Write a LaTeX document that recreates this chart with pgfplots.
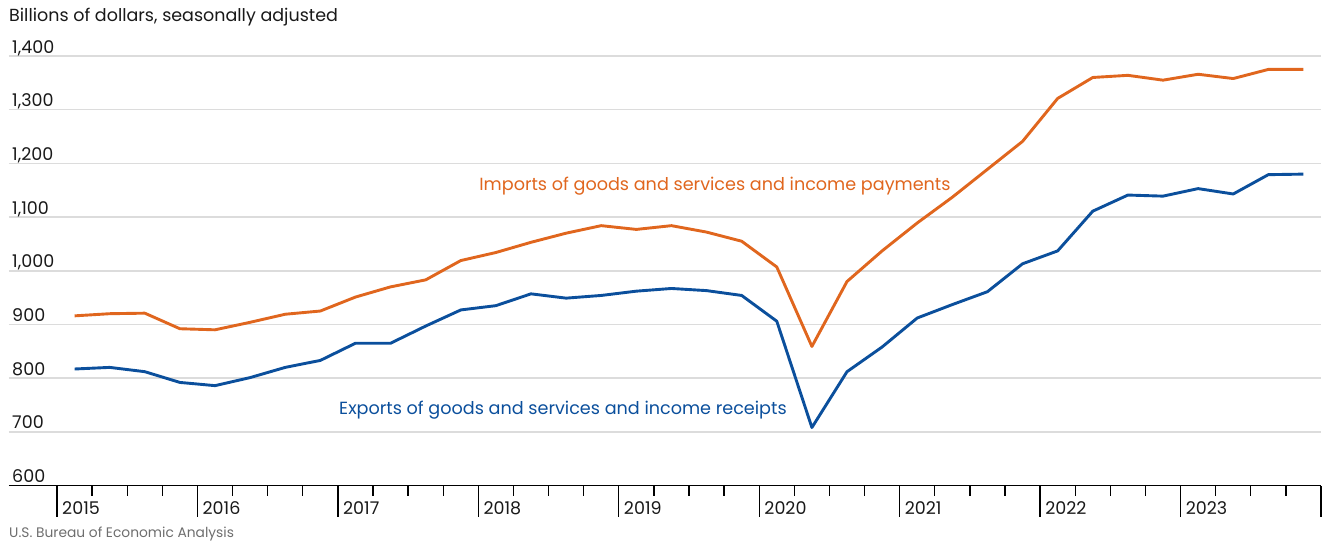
\documentclass[border=0pt]{standalone}
\usepackage{pgfplots}
\pgfplotsset{compat=1.18}
\usepackage{fontspec}
\setmainfont{Poppins}
\definecolor{impcol}{HTML}{E0661E}
\definecolor{expcol}{HTML}{0B4F9C}
\definecolor{gridcol}{HTML}{DCDCDC}
\definecolor{srccol}{HTML}{6E6E6E}

% Quarterly values, plotted at the middle of each quarter
\pgfplotstableread{
t        imp    exp
2015.125 916    817
2015.375 920    820
2015.625 921    812
2015.875 892    792
2016.125 890    786
2016.375 904    801
2016.625 919    820
2016.875 925    833
2017.125 951    865
2017.375 970    865
2017.625 983    897
2017.875 1019   927
2018.125 1034   935
2018.375 1053   957
2018.625 1070   949
2018.875 1084   954
2019.125 1077   962
2019.375 1084   967
2019.625 1072   963
2019.875 1055   954
2020.125 1007   906
2020.375 859    708
2020.625 980    812
2020.875 1037   858
2021.125 1089   912
2021.375 1137   937
2021.625 1189   961
2021.875 1241   1013
2022.125 1321   1037
2022.375 1360   1111
2022.625 1364   1141
2022.875 1355   1139
2023.125 1366   1153
2023.375 1358   1143
2023.625 1375   1179
2023.875 1375   1180
}\bpdata

\begin{document}
\begin{tikzpicture}[x=1pt,y=1pt]
\path[use as bounding box] (0,0) rectangle (1322,542);
\node[anchor=west, inner sep=0pt, font=\fontsize{17.5}{19}\selectfont, text=black!90] at (9,525) {Billions of dollars, seasonally adjusted};
\node[anchor=west, inner sep=0pt, font=\fontsize{13.8}{15}\selectfont, text=srccol] at (9,8) {U.S. Bureau of Economic Analysis};
\begin{axis}[
  at={(9pt,56.5pt)}, anchor=south west,
  scale only axis, width=1312pt, height=429.5pt,
  xmin=2014.658, xmax=2024, ymin=600, ymax=1400,
  axis x line=bottom, axis y line=left,
  x axis line style={-, line width=1.8pt, black},
  y axis line style={draw=none},
  xtick={2015,2016,...,2024},
  xticklabels={2015,2016,2017,2018,2019,2020,2021,2022,2023,{}},
  minor xtick={2015.25,2015.5,2015.75,2016.25,2016.5,2016.75,2017.25,2017.5,2017.75,
               2018.25,2018.5,2018.75,2019.25,2019.5,2019.75,2020.25,2020.5,2020.75,
               2021.25,2021.5,2021.75,2022.25,2022.5,2022.75,2023.25,2023.5,2023.75},
  tick align=outside,
  major tick length=31pt, minor tick length=10pt,
  xtick style={line width=1.3pt, black},
  minor x tick style={line width=1.3pt, black},
  xticklabel style={anchor=west, inner sep=0pt, xshift=5pt, yshift=8pt},
  ytick={600,700,...,1400},
  ytick style={draw=none},
  yticklabel style={anchor=base west, inner sep=0pt, xshift=34pt, yshift=3pt},
  ymajorgrids, grid style={gridcol, line width=1.5pt},
  tick label style={font=\fontsize{17.5}{19}\selectfont, text=black!90},
  /pgf/number format/assume math mode=true,
  /pgf/number format/1000 sep={,},
  clip=false,
]
\addplot[impcol, line width=2.9pt, line join=round] table[x=t, y=imp] {\bpdata};
\addplot[expcol, line width=2.9pt, line join=round] table[x=t, y=exp] {\bpdata};
\node[anchor=west, inner sep=0pt, text=impcol, font=\fontsize{17.6}{19}\selectfont] at (axis cs:2018.006,1158) {Imports of goods and services and income payments};
\node[anchor=west, inner sep=0pt, text=expcol, font=\fontsize{17.6}{19}\selectfont] at (axis cs:2017.008,741) {Exports of goods and services and income receipts};
\end{axis}
\end{tikzpicture}
\end{document}
